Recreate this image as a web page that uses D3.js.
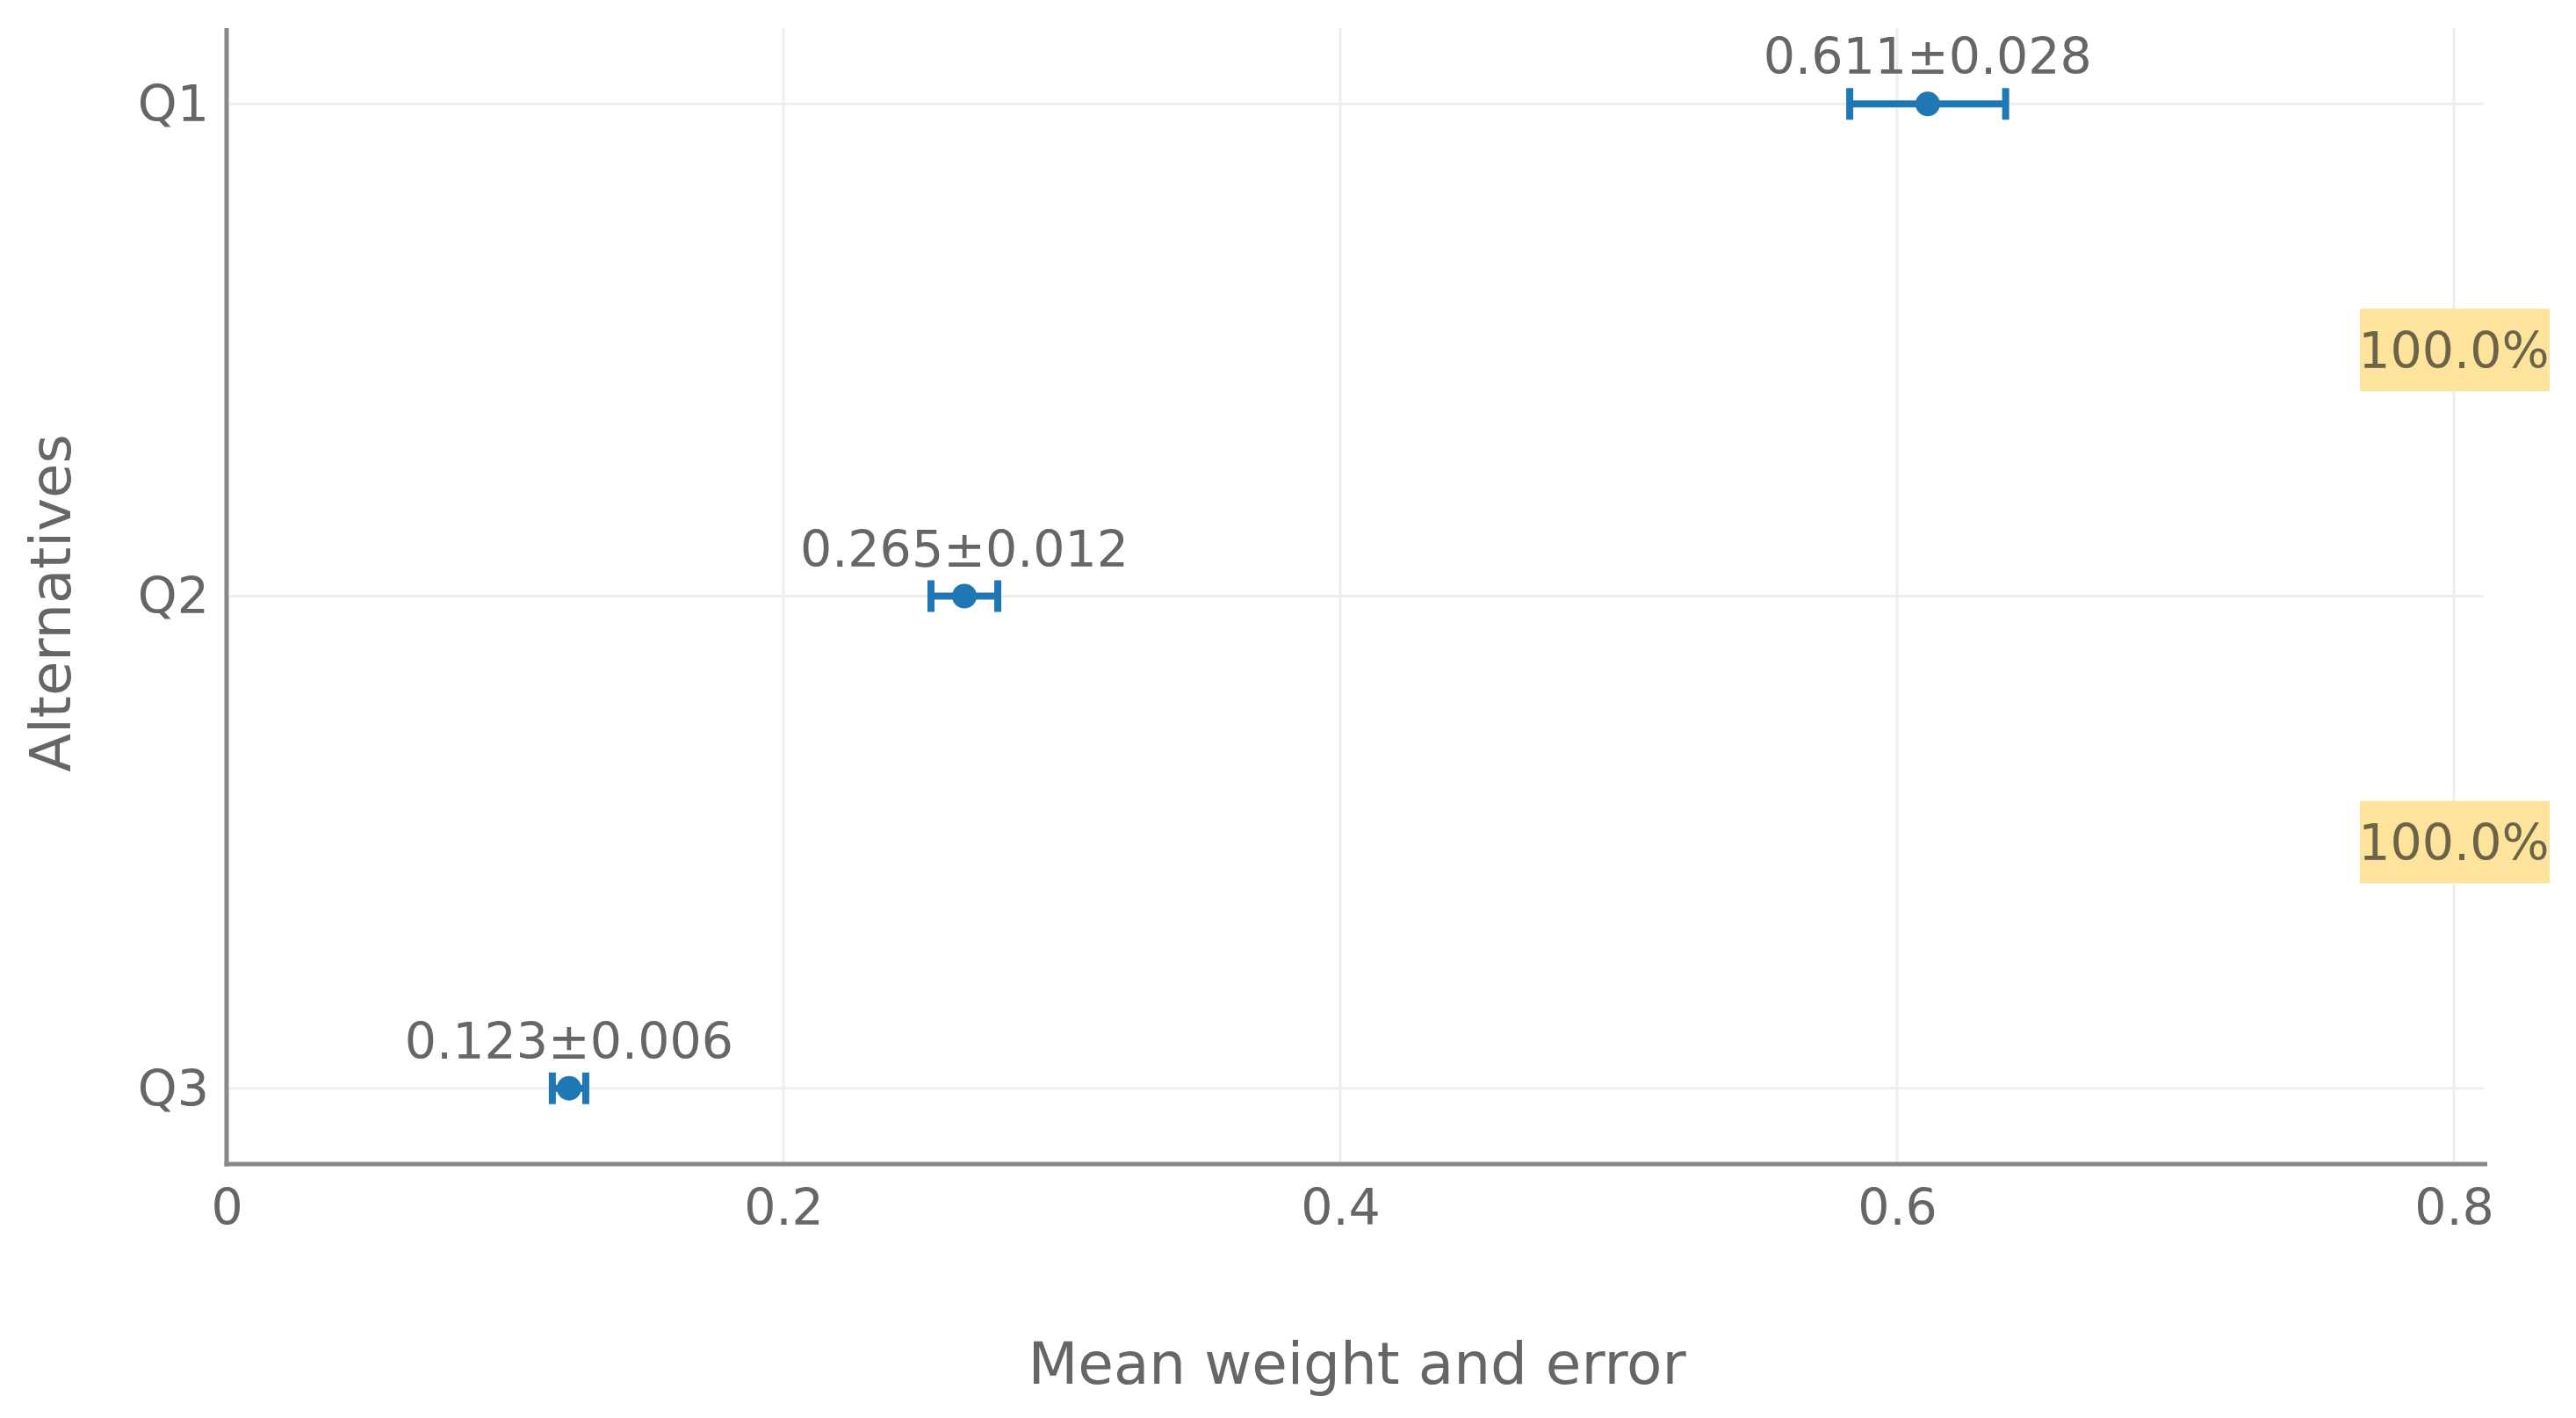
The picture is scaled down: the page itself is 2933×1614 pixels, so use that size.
<!DOCTYPE html>
<html>
<head>
<meta charset="utf-8">
<script src="https://cdn.jsdelivr.net/npm/d3@7"></script>
<style>
  html, body { margin: 0; padding: 0; background: #fff; }
  svg { display: block; }
  text { font-family: "DejaVu Sans", Verdana, sans-serif; }
</style>
</head>
<body>
<script>
const categories = ["Q1", "Q2", "Q3"];
const means = [0.611, 0.265, 0.123];
const errors = [0.028, 0.012, 0.006];
const xTicks = [0, 0.2, 0.4, 0.6, 0.8];
const xTickLabels = ["0", "0.2", "0.4", "0.6", "0.8"];
const consistencyLabels = ["100.0%", "100.0%"];
const consistencyX = 0.8;

(function () {
const W = 2933, H = 1614;
const mLeft = 258, mRight = 2832, mTop = 32, mBottom = 1325;

const svg = d3.select("body").append("svg").attr("width", W).attr("height", H);

const x = d3.scaleLinear().domain([0, 0.812]).range([mLeft, mRight]);
const y = d3.scalePoint().domain(categories).range([mTop, mBottom]).padding(0.154);

const grid = svg.append("g");
grid.selectAll("line.v").data(xTicks.filter(d => d > 0)).join("line").attr("class", "v")
  .attr("x1", d => x(d)).attr("x2", d => x(d))
  .attr("y1", mTop).attr("y2", mBottom)
  .attr("stroke", "#eeeeee").attr("stroke-width", 3);
grid.selectAll("line.h").data(categories).join("line").attr("class", "h")
  .attr("x1", mLeft).attr("x2", mRight - 4)
  .attr("y1", d => y(d)).attr("y2", d => y(d))
  .attr("stroke", "#eeeeee").attr("stroke-width", 3);

const xAxis = d3.axisBottom(x).tickValues(xTicks).tickFormat((d, i) => xTickLabels[i]).tickSize(0).tickPadding(68);
const gx = svg.append("g").attr("transform", `translate(0,${mBottom})`).call(xAxis);
gx.select(".domain").remove();
gx.selectAll("text").attr("font-size", 57).attr("fill", "#666666").attr("font-family", "DejaVu Sans, Verdana, sans-serif").attr("dy", 0).attr("y", 69);

const yAxis = d3.axisLeft(y).tickSize(0).tickPadding(20);
const gy = svg.append("g").attr("transform", `translate(${mLeft},0)`).call(yAxis);
gy.select(".domain").remove();
gy.selectAll("text").attr("font-size", 57).attr("fill", "#666666").attr("font-family", "DejaVu Sans, Verdana, sans-serif").attr("dy", "0.34em");

svg.append("line").attr("x1", mLeft).attr("x2", mLeft).attr("y1", mTop).attr("y2", mBottom + 2.5)
  .attr("stroke", "#888888").attr("stroke-width", 5);
svg.append("line").attr("x1", mLeft - 2.5).attr("x2", mRight).attr("y1", mBottom).attr("y2", mBottom)
  .attr("stroke", "#888888").attr("stroke-width", 5);

const midYs = consistencyLabels.map((d, i) => (y(categories[i]) + y(categories[i + 1])) / 2);
const cg = svg.append("g");
cg.selectAll("rect").data(consistencyLabels).join("rect")
  .attr("x", x(consistencyX) - 107).attr("width", 216)
  .attr("y", (d, i) => midYs[i] - 47).attr("height", 94)
  .attr("fill", "#fde39c");
cg.selectAll("text").data(consistencyLabels).join("text")
  .attr("x", x(consistencyX)).attr("y", (d, i) => midYs[i])
  .attr("dy", "0.36em").attr("text-anchor", "middle")
  .attr("font-size", 57).attr("fill", "#6b6449").text(d => d);

const color = "#1f77b4";
const eg = svg.append("g");
const capH = 18;
categories.forEach((c, i) => {
  const cy = y(c);
  const x1 = x(means[i] - errors[i]), x2 = x(means[i] + errors[i]);
  eg.append("line").attr("x1", x1).attr("x2", x2).attr("y1", cy).attr("y2", cy)
    .attr("stroke", color).attr("stroke-width", 8);
  [x1, x2].forEach(xx => {
    eg.append("line").attr("x1", xx).attr("x2", xx).attr("y1", cy - capH).attr("y2", cy + capH)
      .attr("stroke", color).attr("stroke-width", 8);
  });
  eg.append("circle").attr("cx", x(means[i])).attr("cy", cy).attr("r", 14).attr("fill", color);
  eg.append("text").attr("x", x(means[i])).attr("y", cy - 34)
    .attr("text-anchor", "middle").attr("font-size", 57).attr("fill", "#666666")
    .text(`${means[i].toFixed(3)}±${errors[i].toFixed(3)}`);
});

svg.append("text").attr("x", (mLeft + mRight) / 2).attr("y", 1575)
  .attr("text-anchor", "middle").attr("font-size", 66).attr("fill", "#666666")
  .text("Mean weight and error");
svg.append("text").attr("transform", `translate(80,${(mTop + mBottom) / 2 + 8}) rotate(-90)`)
  .attr("text-anchor", "middle").attr("font-size", 64).attr("fill", "#666666")
  .text("Alternatives");
})();
</script>
</body>
</html>
